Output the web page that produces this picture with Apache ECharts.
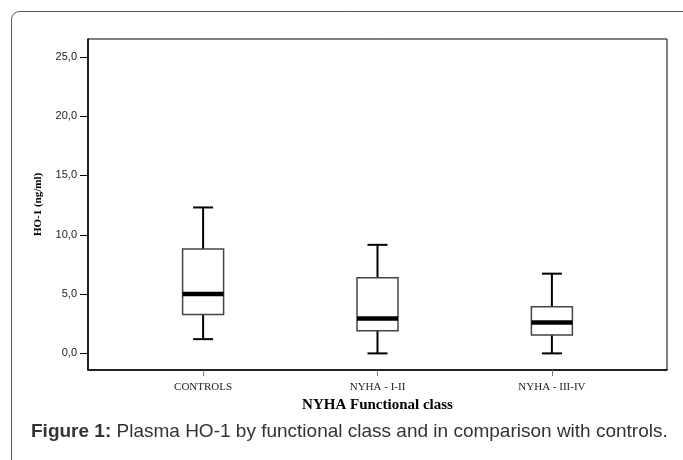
<!DOCTYPE html>
<html>
<head>
<meta charset="utf-8">
<script src="https://cdn.jsdelivr.net/npm/echarts@6/dist/echarts.min.js"></script>
<style>html,body{margin:0;padding:0;background:#fff;}#c{width:683px;height:460px;}</style>
</head>
<body>
<div id="c"></div>
<script>
const categories = ['CONTROLS', 'NYHA - I-II', 'NYHA - III-IV'];
const whiskerLow = [1.2, 0.0, 0.0];
const quartile1 = [3.27, 1.9, 1.56];
const medians = [5.0, 2.95, 2.6];
const quartile3 = [8.8, 6.38, 3.94];
const whiskerHigh = [12.3, 9.15, 6.72];
const yTicks = [0, 5, 10, 15, 20, 25];
const xTicks = [0, 1, 2];
const xAxisTitle = 'NYHA Functional class';
const yAxisTitle = 'HO-1 (ng/ml)';
const captionBold = 'Figure 1:';
const captionText = ' Plasma HO-1 by functional class and in comparison with controls.';

const data = categories.map((c, i) => [i, whiskerLow[i], quartile1[i], medians[i], quartile3[i], whiskerHigh[i]]);

const BOX_W = 41, CAP_W = 20;
function renderItem(params, api) {
  const x = api.value(0);
  const pLow = api.coord([x, api.value(1)]);
  const pQ1 = api.coord([x, api.value(2)]);
  const pMed = api.coord([x, api.value(3)]);
  const pQ3 = api.coord([x, api.value(4)]);
  const pHigh = api.coord([x, api.value(5)]);
  const cx = pMed[0];
  const whisk = {stroke: '#000', lineWidth: 2};
  return {
    type: 'group',
    children: [
      {type: 'line', shape: {x1: cx, y1: pQ3[1], x2: cx, y2: pHigh[1]}, style: whisk},
      {type: 'line', shape: {x1: cx, y1: pQ1[1], x2: cx, y2: pLow[1]}, style: whisk},
      {type: 'line', shape: {x1: cx - CAP_W / 2, y1: pHigh[1], x2: cx + CAP_W / 2, y2: pHigh[1]}, style: whisk},
      {type: 'line', shape: {x1: cx - CAP_W / 2, y1: pLow[1], x2: cx + CAP_W / 2, y2: pLow[1]}, style: whisk},
      {type: 'rect', shape: {x: cx - BOX_W / 2, y: pQ3[1], width: BOX_W, height: pQ1[1] - pQ3[1]},
        style: {fill: '#fff', stroke: '#444', lineWidth: 1.5}},
      {type: 'line', shape: {x1: cx - BOX_W / 2, y1: pMed[1], x2: cx + BOX_W / 2, y2: pMed[1]},
        style: {stroke: '#000', lineWidth: 4.5}}
    ]
  };
}

const chart = echarts.init(document.getElementById('c'), null, {renderer: 'canvas'});
chart.setOption({
  animation: false,
  backgroundColor: '#fff',
  graphic: [
    {type: 'rect', shape: {x: 11.5, y: 11.5, width: 700, height: 480, r: 8},
      style: {fill: 'none', stroke: '#555', lineWidth: 1}, z: -10}
  ],
  title: {
    text: '{b|' + captionBold + '}' + captionText,
    left: 26, top: 417,
    textStyle: {
      fontFamily: 'Liberation Sans, Arial, sans-serif', fontSize: 19, fontWeight: 'normal', color: '#333',
      rich: {b: {fontFamily: 'Liberation Sans, Arial, sans-serif', fontSize: 19, fontWeight: 'bold', color: '#333'}}
    }
  },
  grid: {left: 88, right: 16, top: 39, bottom: 90, show: true, borderColor: '#000', borderWidth: 1},
  xAxis: {
    type: 'value', min: -0.66, max: 2.66,
    name: xAxisTitle, nameLocation: 'middle', nameGap: 26,
    nameTextStyle: {fontFamily: 'Liberation Serif, Times New Roman, serif', fontWeight: 'bold', fontSize: 15, color: '#000'},
    axisLine: {show: true, onZero: false, lineStyle: {color: '#000', width: 1.5}},
    axisTick: {show: true, customValues: xTicks, length: 6, lineStyle: {color: '#777', width: 1}},
    axisLabel: {show: true, customValues: xTicks, margin: 12,
      formatter: v => categories[Math.round(v)] || '',
      fontFamily: 'Liberation Serif, Times New Roman, serif', fontSize: 11, color: '#222'},
    splitLine: {show: false}
  },
  yAxis: {
    type: 'value', min: -1.4, max: 26.5,
    name: yAxisTitle, nameLocation: 'middle', nameGap: 44, nameRotate: 90,
    nameTextStyle: {fontFamily: 'Liberation Serif, Times New Roman, serif', fontWeight: 'bold', fontSize: 11, color: '#000'},
    axisLine: {show: true, onZero: false, lineStyle: {color: '#000', width: 1.5}},
    axisTick: {show: true, customValues: yTicks, length: 8, lineStyle: {color: '#000', width: 1}},
    axisLabel: {show: true, customValues: yTicks, margin: 11,
      formatter: v => v.toFixed(1).replace('.', ','),
      fontFamily: 'Liberation Sans, Arial, sans-serif', fontSize: 11, color: '#222'},
    splitLine: {show: false}
  },
  series: [{
    type: 'custom',
    renderItem: renderItem,
    data: data,
    encode: {x: 0, y: [1, 2, 3, 4, 5]}
  }]
});
</script>
</body>
</html>
